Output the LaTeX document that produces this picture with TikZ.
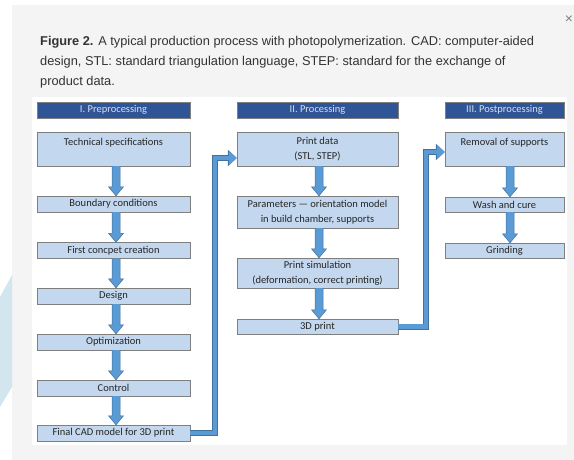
\documentclass[tikz,border=0pt]{standalone}
\usepackage{fontspec}
\setmainfont{Liberation Sans}
\newfontfamily\carlito{Carlito}
\usetikzlibrary{calc,arrows.meta}

\definecolor{panelgray}{HTML}{F4F4F4}
\definecolor{decoblue}{HTML}{D3E6EF}
\definecolor{headblue}{HTML}{2F5597}
\definecolor{headtext}{HTML}{D6E0F0}
\definecolor{boxblue}{HTML}{C3D8EF}
\definecolor{boxline}{HTML}{7F7F7F}
\definecolor{arrowfill}{HTML}{5B9BD5}
\definecolor{arrowline}{HTML}{41719C}
\definecolor{captext}{HTML}{333333}

\tikzset{
  head/.style={draw=boxline, fill=headblue, text=headtext, font=\carlito\fontsize{10.5}{12}\selectfont, minimum height=16pt, inner sep=0pt},
  stepbox/.style={draw=boxline, fill=boxblue, text=black!85, font=\carlito\fontsize{10.5}{15}\selectfont, minimum height=16pt, inner sep=0pt, align=center},
  topbox/.style={stepbox, minimum height=0pt, text height=11pt, text depth=17pt, inner ysep=3pt},
  flow/.style={draw=arrowline, fill=arrowfill, line width=0.5pt},
  link/.style={draw=arrowline, line width=6pt, -{Triangle[width=16pt,length=9pt]},
    postaction={draw=arrowfill, line width=4.5pt, -{Triangle[width=14pt,length=8pt]}}}
}

% block arrow from one box down to the next, optional x offset
\newcommand{\blockarr}[3][0]{%
  \draw[flow] let \p1=(#2.south), \p2=(#3.north) in
    (\x1+#1pt-4pt,\y1) -- (\x1+#1pt-4pt,\y2+9pt) -- (\x1+#1pt-7.5pt,\y2+9pt) --
    (\x1+#1pt,\y2) -- (\x1+#1pt+7.5pt,\y2+9pt) -- (\x1+#1pt+4pt,\y2+9pt) -- (\x1+#1pt+4pt,\y1);
}

\begin{document}
\begin{tikzpicture}[x=1pt, y=-1pt]
    \useasboundingbox (0,0) rectangle (574,460);

    % --- 1. Page and panels ---
    \fill[panelgray] (12,5) rectangle (574,460);
    \fill[white] (32,97) rectangle (567,445);
    \fill[decoblue] (0,297) -- (12,275) -- (12,387) -- (0,407) -- cycle;

    \node[anchor=north west, inner sep=0pt, align=left, text=captext, font=\fontsize{12.8}{20}\selectfont] (caption) at (40,36)
        {\textbf{Figure 2.} A typical production process with photopolymerization. CAD: computer-aided\\
         design, STL: standard triangulation language, STEP: standard for the exchange of\\
         product data.};
    \node[text=gray, font=\fontsize{14}{14}\selectfont] (close) at (569,20) {×};

    % --- 2. I. Preprocessing ---
    \def\colA{113.5}
    \node[head, minimum width=153pt] (pre) at (\colA,110) {I. Preprocessing};
    \node[topbox, minimum width=153pt] (techspec) at (\colA,149) {Technical specifications};
    \node[stepbox, minimum width=153pt] (boundary) at (\colA,204) {Boundary conditions};
    \node[stepbox, minimum width=153pt] (concept) at (\colA,250.5) {First concpet creation};
    \node[stepbox, minimum width=153pt] (design) at (\colA,296) {Design};
    \node[stepbox, minimum width=153pt] (optim) at (\colA,342) {Optimization};
    \node[stepbox, minimum width=153pt] (control) at (\colA,388) {Control};
    \node[stepbox, minimum width=153pt] (finalcad) at (\colA,433) {Final CAD model for 3D print};

    \foreach \a/\b in {techspec/boundary, boundary/concept, concept/design, design/optim, optim/control, control/finalcad}
        \blockarr[2.5]{\a}{\b};

    % --- 3. II. Processing ---
    \def\colB{317.5}
    \node[head, minimum width=161pt] (proc) at (\colB,110) {II. Processing};
    \node[stepbox, minimum width=161pt, minimum height=34pt] (printdata) at (\colB,149) {Print data\\(STL, STEP)};
    \node[stepbox, minimum width=161pt, minimum height=32pt] (params) at (\colB,212) {Parameters — orientation model\\in build chamber, supports};
    \node[stepbox, minimum width=161pt, minimum height=30pt] (printsim) at (\colB,273) {Print simulation\\(deformation, correct printing)};
    \node[stepbox, minimum width=161pt, minimum height=15pt] (print3d) at (\colB,326.5) {3D print};

    \foreach \a/\b in {printdata/params, params/printsim, printsim/print3d}
        \blockarr[1.5]{\a}{\b};

    % --- 4. III. Postprocessing ---
    \def\colC{504.5}
    \node[head, minimum width=119pt] (post) at (\colC,110) {III. Postprocessing};
    \node[topbox, minimum width=119pt] (removal) at (\colC,149) {Removal of supports};
    \node[stepbox, minimum width=119pt, minimum height=15pt] (wash) at (\colC,204.5) {Wash and cure};
    \node[stepbox, minimum width=119pt, minimum height=15pt] (grinding) at (\colC,250.5) {Grinding};

    \blockarr[5.5]{removal}{wash};
    \blockarr[5.5]{wash}{grinding};

    % --- 5. Links between stages ---
    \draw[link] (finalcad.east) -- ++(25,0) |- ($(printdata.west)+(0,9)$);
    \draw[link] (print3d.east) -- ++(28,0) |- ($(removal.west)+(0,3)$);
\end{tikzpicture}
\end{document}
